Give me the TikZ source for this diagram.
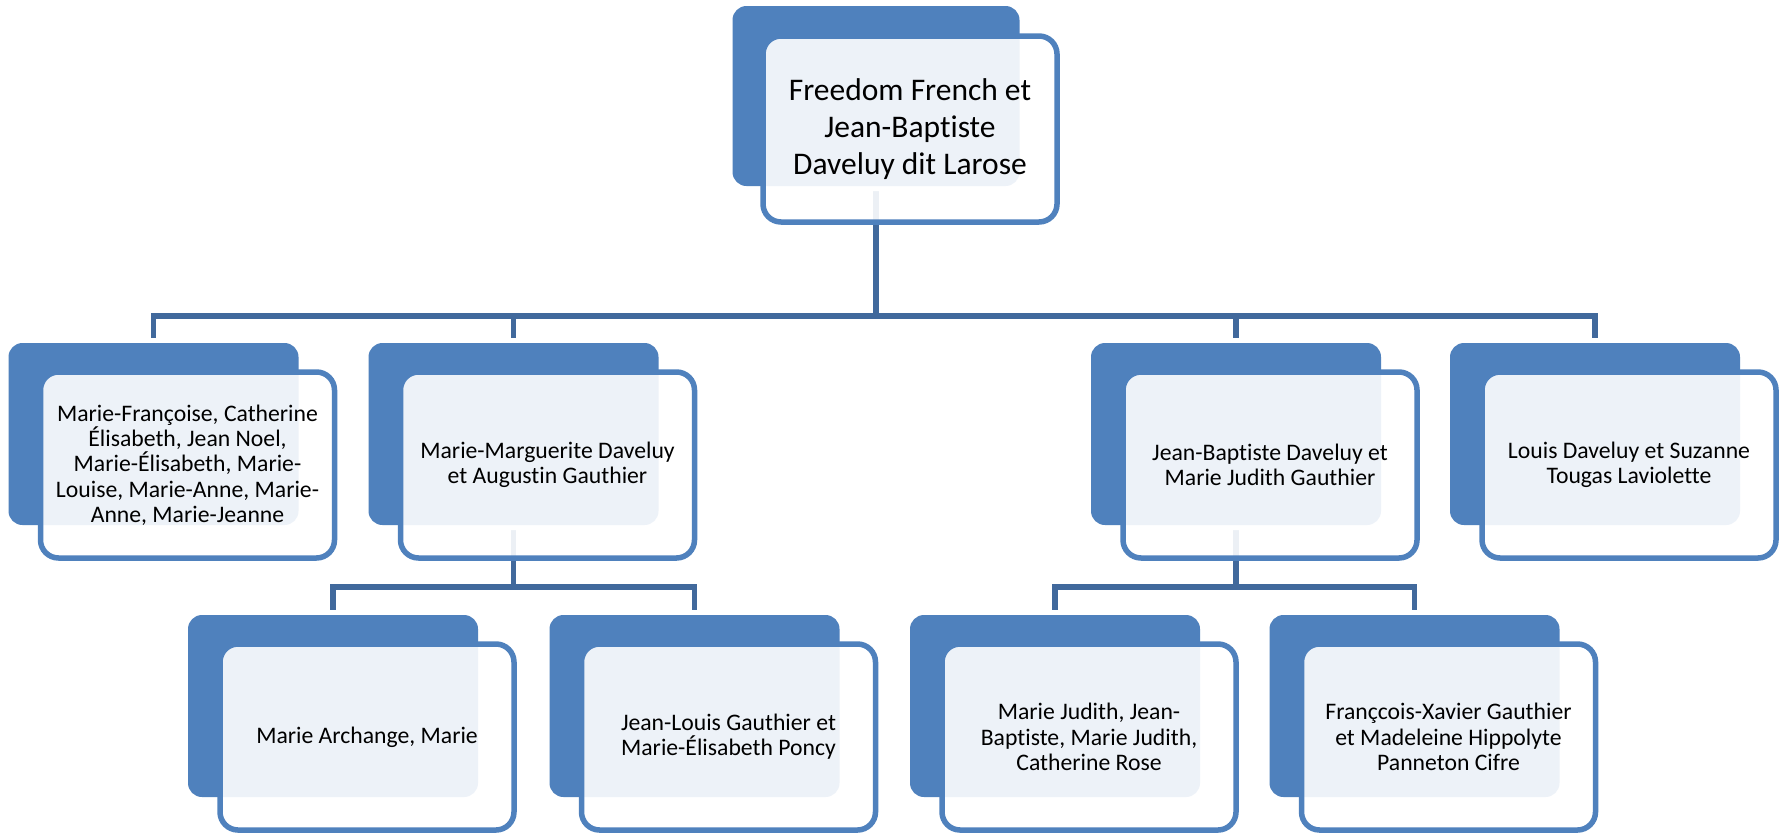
\documentclass[tikz,border=0pt]{standalone}
\usepackage{fontspec}
\setmainfont{Carlito}[Ligatures=NoCommon]
\definecolor{accent}{RGB}{79,129,189}
\definecolor{connc}{RGB}{65,105,156}
\pgfdeclarelayer{bg}
\pgfsetlayers{bg,main}
\tikzset{
  backbox/.style={rectangle, rounded corners=14pt, fill=accent, inner sep=0pt,
    minimum width=290pt, minimum height=182pt,
    preaction={draw=white, line width=10pt}},
  frontbox/.style={rectangle, rounded corners=18pt, draw=accent, line width=5.5pt,
    fill=white, fill opacity=0.9, text opacity=1, text=black, inner sep=2pt,
    minimum width=294pt, minimum height=186pt, align=center,
    font=\fontsize{23.7}{25.3}\selectfont},
  conn/.style={draw=connc, line width=5.5pt}
}
\begin{document}
\begin{tikzpicture}[x=1pt,y=-1pt]
\useasboundingbox (0,0) rectangle (1785,836);
\coordinate (bus1) at (0,316);
\coordinate (bus2) at (0,587);
% top
\node[backbox, minimum width=287pt, minimum height=180pt] (topb) at (876,96) {};
\node[frontbox, font=\fontsize{31.5}{37}\selectfont] (topf) at (910,129) {Freedom French et\\Jean-Baptiste\\Daveluy dit Larose};
% level 1
\node[backbox] (Ab) at (153.5,434) {};
\node[frontbox] (Af) at (187.5,465) {Marie-Françoise, Catherine\\Élisabeth, Jean Noel,\\Marie-Élisabeth, Marie-\\Louise, Marie-Anne, Marie-\\Anne, Marie-Jeanne};
\node[backbox] (Bb) at (513.5,434) {};
\node[frontbox] (Bf) at (547.5,465) {Marie-Marguerite Daveluy\\et Augustin Gauthier};
\node[backbox] (Cb) at (1236,434) {};
\node[frontbox] (Cf) at (1270,465) {Jean-Baptiste Daveluy et\\Marie Judith Gauthier};
\node[backbox] (Db) at (1595,434) {};
\node[frontbox] (Df) at (1629,465) {Louis Daveluy et Suzanne\\Tougas Laviolette};
% level 2
\node[backbox] (Eb) at (333,706) {};
\node[frontbox] (Ef) at (367,737) {Marie Archange, Marie};
\node[backbox] (Fb) at (694.5,706) {};
\node[frontbox] (Ff) at (728.5,737) {Jean-Louis Gauthier et\\Marie-Élisabeth Poncy};
\node[backbox] (Gb) at (1055,706) {};
\node[frontbox] (Gf) at (1089,737) {Marie Judith, Jean-\\Baptiste, Marie Judith,\\Catherine Rose};
\node[backbox] (Hb) at (1414.5,706) {};
\node[frontbox] (Hf) at (1448.5,737) {Françcois-Xavier Gauthier\\et Madeleine Hippolyte\\Panneton Cifre};
% connectors
\begin{pgfonlayer}{bg}
\foreach \c in {Ab,Bb,Cb,Db}
  \draw[conn] (topb.center) |- (\c.north |- bus1) -- (\c.north);
\foreach \c in {Eb,Fb}
  \draw[conn] (Bb.center) |- (\c.north |- bus2) -- (\c.north);
\foreach \c in {Gb,Hb}
  \draw[conn] (Cb.center) |- (\c.north |- bus2) -- (\c.north);
\end{pgfonlayer}
\end{tikzpicture}
\end{document}
